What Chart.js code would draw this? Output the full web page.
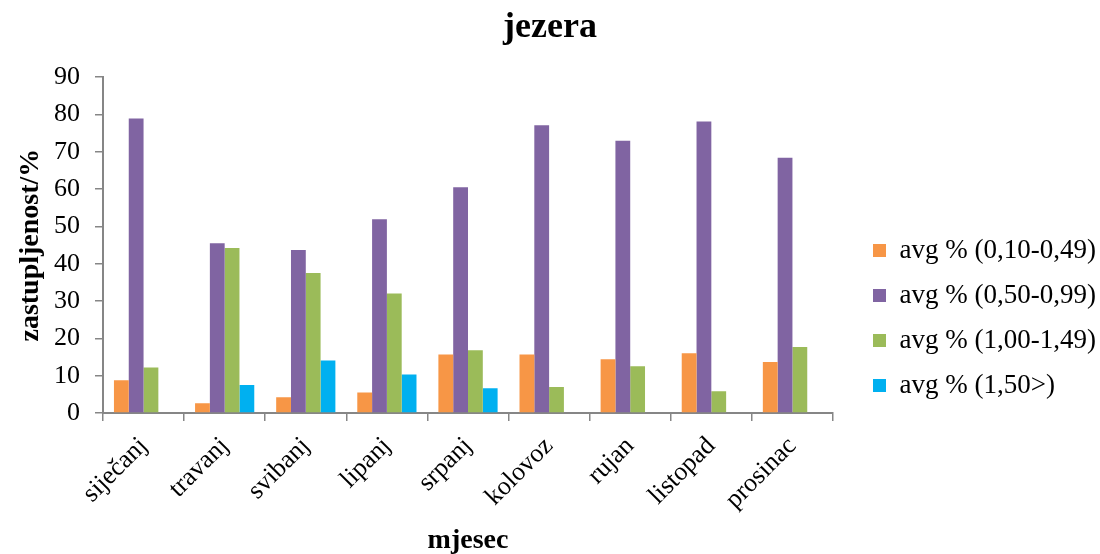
<!DOCTYPE html>
<html>
<head>
<meta charset="utf-8">
<script src="https://cdn.jsdelivr.net/npm/chart.js@4"></script>
<style>
  body { margin: 0; background: #fff; }
</style>
</head>
<body>
<canvas id="chart" width="1100" height="554"></canvas>
<script>
const months = ['siječanj', 'travanj', 'svibanj', 'lipanj', 'srpanj', 'kolovoz', 'rujan', 'listopad', 'prosinac'];
const seriesNames = ['avg % (0,10-0,49)', 'avg % (0,50-0,99)', 'avg % (1,00-1,49)', 'avg % (1,50>)'];
const lowRange = [8.8, 2.6, 4.2, 5.5, 15.7, 15.7, 14.4, 16.0, 13.7];
const midRange = [78.9, 45.5, 43.7, 51.9, 60.5, 77.1, 73.0, 78.1, 68.4];
const highRange = [12.2, 44.2, 37.5, 32.0, 16.8, 7.0, 12.5, 5.8, 17.7];
const overRange = [0, 7.5, 14.1, 10.3, 6.6, 0, 0, 0, 0];
const colors = ['#F79646', '#8064A2', '#9BBB59', '#00B0F0'];

Chart.defaults.font.family = "'Liberation Serif', 'Times New Roman', serif";
Chart.defaults.color = '#000';

const axisGray = '#868686';

// nudge the legend a few px down, below the chart area's bottom edge
const legendNudge = {
    id: 'legendNudge',
    afterLayout(chart) {
        chart.legend.top += 4;
        chart.legend.bottom += 4;
    }
};

new Chart(document.getElementById('chart'), {
    type: 'bar',
    data: {
        labels: months,
        datasets: [lowRange, midRange, highRange, overRange].map((d, i) => ({
            label: seriesNames[i],
            data: d,
            backgroundColor: colors[i],
            borderWidth: 0,
            categoryPercentage: 0.73,
            barPercentage: 1
        }))
    },
    plugins: [legendNudge],
    options: {
        responsive: false,
        animation: false,
        layout: { padding: 0 },
        scales: {
            x: {
                grid: { display: true, drawOnChartArea: false, offset: true, color: axisGray, lineWidth: 1.5, tickLength: 8 },
                border: { color: axisGray, width: 2 },
                ticks: { font: { size: 26 }, maxRotation: 45, minRotation: 45, padding: 10 },
                title: { display: true, text: 'mjesec', font: { size: 28, weight: 'bold' }, padding: { top: 4, bottom: -4 } },
                afterFit: s => { s.height = 141; }
            },
            y: {
                min: 0,
                max: 90,
                ticks: { stepSize: 10, font: { size: 26 }, padding: 15 },
                grid: { display: true, drawOnChartArea: false, color: axisGray, lineWidth: 1.5, tickLength: 8 },
                border: { color: axisGray, width: 2 },
                title: { display: true, text: 'zastupljenost/%', font: { size: 28, weight: 'bold' }, padding: { top: 14, bottom: 0 } },
                afterFit: s => { s.width = 103; }
            },
            gap: {
                type: 'linear',
                position: 'right',
                grid: { display: false },
                ticks: { display: false },
                border: { display: false },
                afterFit: s => { s.width = 22; }
            }
        },
        plugins: {
            title: {
                display: true,
                text: 'jezera',
                font: { size: 36, weight: 'bold' },
                color: '#000',
                padding: { top: 6, bottom: 28 }
            },
            legend: {
                position: 'right',
                align: 'end',
                fullSize: false,
                maxWidth: 245,
                labels: {
                    boxWidth: 13,
                    boxHeight: 13,
                    padding: 18,
                    font: { size: 27 },
                    color: '#000'
                }
            },
            tooltip: { enabled: false }
        }
    }
});
</script>
</body>
</html>
